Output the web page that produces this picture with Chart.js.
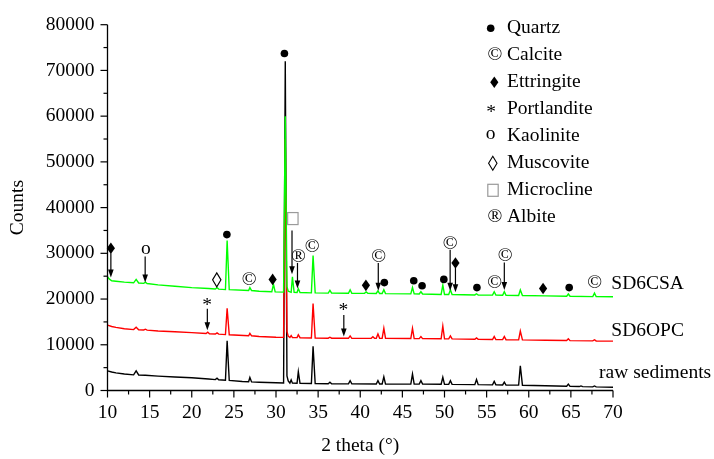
<!DOCTYPE html>
<html>
<head>
<meta charset="utf-8">
<script src="https://cdn.jsdelivr.net/npm/chart.js@4.4.1/dist/chart.umd.min.js"></script>
<style>
html,body{margin:0;padding:0;background:#fff;}
#c{display:block;}
</style>
</head>
<body>
<canvas id="c" width="714" height="459"></canvas>
<script>
// ---------- data ----------
const xTickLabels = [10, 15, 20, 25, 30, 35, 40, 45, 50, 55, 60, 65, 70];
const yTickLabels = [0, 10000, 20000, 30000, 40000, 50000, 60000, 70000, 80000];

// raw sediments (black)
const rawTheta = [10,10.5,11,12,13.1,13.4,13.7,14.5,16,18,20,22,22.8,23.0,23.2,24.0,24.2,24.45,26,26.75,26.9,27.1,28,30,30.9,31.1,31.3,31.45,31.65,31.8,31.95,32.5,32.65,32.85,34.2,34.4,34.65,36.2,36.4,36.6,38.6,38.8,39.0,41.9,42.1,42.3,42.6,42.8,43.0,46.0,46.2,46.4,47.0,47.2,47.4,49.6,49.8,50.0,50.5,50.7,50.9,53.6,53.8,54.0,55.7,55.9,56.1,56.9,57.1,57.3,58.8,59.0,59.25,62,64.5,64.7,64.9,66.0,66.2,66.4,67.6,67.8,68.0,70];
const rawCounts = [4300,4050,3850,3600,3420,4300,3400,3350,3150,2950,2800,2500,2380,2700,2360,2240,10850,2220,1980,1900,2850,1880,1800,1680,1650,72000,3200,2100,1620,2300,1610,1600,4100,1590,1540,9650,1530,1480,1800,1470,1440,2150,1440,1420,2150,1420,1420,3000,1410,1400,3600,1400,1390,2150,1390,1360,2900,1350,1350,2150,1340,1280,2400,1280,1240,2000,1230,1210,1850,1200,1170,5400,1160,1050,920,1400,910,860,1000,850,800,1000,790,720];

// SD6OPC (red)
const opcTheta = [10,10.5,11,12,13.1,13.4,13.7,14.3,14.5,14.7,16,18,20,21.7,21.9,22.1,22.8,23.0,23.2,24.0,24.2,24.45,26.75,26.9,27.1,28,30,30.9,31.1,31.3,31.45,31.65,31.8,31.95,32.5,32.65,32.85,34.2,34.4,34.65,36.2,36.4,36.6,38.6,38.8,39.0,41.3,41.5,41.7,41.9,42.1,42.3,42.6,42.8,43.0,46.0,46.2,46.4,47.0,47.2,47.4,49.6,49.8,50.0,50.5,50.7,50.9,53.6,53.8,54.0,55.7,55.9,56.1,56.9,57.1,57.3,58.8,59.0,59.25,62,64.5,64.7,64.9,67.6,67.8,68.0,70];
const opcCounts = [14300,14000,13800,13500,13320,13850,13280,13230,13400,13200,13000,12850,12650,12450,12750,12420,12350,12600,12330,12220,18000,12200,11980,12500,11960,11800,11650,11620,55000,12900,11900,11580,12000,11570,11560,12200,11550,11480,19000,11470,11440,11650,11440,11420,11950,11420,11400,11750,11400,11400,12370,11400,11400,13600,11390,11360,13600,11360,11350,11800,11350,11310,14100,11300,11300,11950,11290,11200,11500,11190,11150,11800,11140,11120,11800,11110,11070,13000,11060,11000,10920,11300,10910,10850,11100,10840,10800];

// SD6CSA (green)
const csaTheta = [10,10.2,10.5,11,12,13.1,13.4,13.7,14.3,14.5,14.7,16,18,20,22,22.8,23.0,23.2,24.0,24.2,24.45,26.75,26.9,27.1,28,29.5,29.7,29.9,30.9,31.1,31.3,31.45,31.8,31.95,32.15,32.5,32.65,32.85,34.2,34.4,34.65,36.2,36.4,36.6,38.6,38.8,39.0,40.5,40.7,40.9,41.9,42.1,42.3,42.6,42.8,43.0,46.0,46.2,46.4,47.0,47.2,47.4,49.6,49.8,50.0,50.5,50.7,50.9,53.6,53.8,54.0,55.7,55.9,56.1,56.9,57.1,57.3,58.8,59.0,59.25,62,64.5,64.7,64.9,67.6,67.8,68.0,70];
const csaCounts = [24900,24400,24000,23900,23700,23550,24300,23520,23430,23700,23400,23100,22800,22500,22300,22200,22500,22180,22070,32800,22050,21880,22500,21860,21700,21600,23200,21580,21520,60000,22700,21700,21470,24850,21450,21440,22250,21430,21360,29500,21350,21300,21900,21300,21270,22030,21270,21250,21550,21240,21220,21800,21210,21200,22030,21190,21130,22530,21120,21110,21600,21100,21010,23030,21000,21000,22030,20990,20900,21150,20890,20860,21600,20850,20830,21600,20820,20770,22000,20760,20700,20620,21100,20610,20540,21300,20530,20500];

const seriesNames = ['SD6CSA', 'SD6OPC', 'raw sediments'];
const seriesLabelTheta = [69.8, 69.8, 68.35];
const seriesLabelCounts = [23240, 13090, 3930];

// phase legend
const phaseSymbols = ['dot', 'c', 'diamond', 'star', 'o', 'lozenge', 'square', 'r'];
const phaseNames = ['Quartz', 'Calcite', 'Ettringite', 'Portlandite', 'Kaolinite', 'Muscovite', 'Microcline', 'Albite'];

// peak markers (2 theta, counts)
const markSymbols = ['diamond','o','lozenge','dot','c','diamond','dot','square','r','c','diamond','c','dot','dot','dot','dot','c','diamond','dot','c','c','diamond','dot','c','star','star'];
const markTheta = [10.4,14.55,22.97,24.17,26.8,29.6,31.0,32.0,32.66,34.3,40.67,42.18,42.86,46.35,47.34,49.92,50.67,51.3,53.85,55.95,57.2,61.7,64.8,67.83,21.83,38.0];
const markCounts = [31100,30500,24200,34100,24200,24300,73700,37600,29300,31500,23000,29300,23600,24000,22900,24300,32000,27900,22500,23600,29500,22300,22500,23500,19300,18200];

// arrows (2 theta, from counts, to counts)
const arrowTheta = [10.4,14.47,31.9,32.55,42.14,50.67,51.3,57.1,21.85,38.05];
const arrowFrom = [30000,29300,35000,27900,27900,30800,26800,28000,17900,16500];
const arrowTo = [24700,23600,25400,22300,21800,21800,21500,22000,13200,11800];

// ---------- drawing ----------
const FONT = '19.5px "Liberation Serif", "Times New Roman", serif';

function toXY(xs, ys) { return xs.map((x, i) => ({x: x, y: ys[i]})); }

function drawSym(ctx, sym, cx, cy) {
  ctx.save();
  ctx.fillStyle = '#000';
  ctx.strokeStyle = '#000';
  if (sym === 'dot') {
    ctx.beginPath(); ctx.arc(cx, cy, 3.8, 0, Math.PI * 2); ctx.fill();
  } else if (sym === 'diamond') {
    const w = 4.1, h = 5.8;
    ctx.beginPath(); ctx.moveTo(cx, cy - h); ctx.lineTo(cx + w, cy); ctx.lineTo(cx, cy + h); ctx.lineTo(cx - w, cy); ctx.closePath(); ctx.fill();
  } else if (sym === 'lozenge') {
    const w = 4.2, h = 7;
    ctx.lineWidth = 1.1;
    ctx.beginPath(); ctx.moveTo(cx, cy - h); ctx.lineTo(cx + w, cy); ctx.lineTo(cx, cy + h); ctx.lineTo(cx - w, cy); ctx.closePath(); ctx.stroke();
  } else if (sym === 'square') {
    ctx.strokeStyle = '#9a9a9a'; ctx.lineWidth = 1.2;
    ctx.strokeRect(cx - 5.2, cy - 6, 10.4, 12);
  } else {
    ctx.font = FONT;
    ctx.textAlign = 'center';
    ctx.textBaseline = 'middle';
    const ch = sym === 'c' ? '\u00A9' : sym === 'r' ? '\u00AE' : sym === 'o' ? 'o' : '*';
    let dy = 0;
    if (sym === 'star') dy = 3.5;
    if (sym === 'o') dy = -2;
    ctx.fillText(ch, cx, cy + dy);
  }
  ctx.restore();
}

function drawArrow(ctx, x, y1, y2) {
  ctx.save();
  ctx.strokeStyle = '#000'; ctx.fillStyle = '#000'; ctx.lineWidth = 1.2;
  const headL = 8, headW = 2.8;
  ctx.beginPath(); ctx.moveTo(x, y1); ctx.lineTo(x, y2 - headL + 1); ctx.stroke();
  ctx.beginPath(); ctx.moveTo(x - headW, y2 - headL); ctx.lineTo(x + headW, y2 - headL); ctx.lineTo(x, y2); ctx.closePath(); ctx.fill();
  ctx.restore();
}

const xrdPlugin = {
  id: 'xrdPlugin',
  afterDatasetsDraw(chart) {
    const ctx = chart.ctx, a = chart.chartArea;
    const xs = chart.scales.x, ys = chart.scales.y;
    ctx.save();
    // axes
    ctx.strokeStyle = '#000'; ctx.lineWidth = 1.3;
    ctx.beginPath(); ctx.moveTo(a.left, a.top); ctx.lineTo(a.left, a.bottom); ctx.lineTo(a.right, a.bottom); ctx.stroke();
    // ticks (major + minor)
    ctx.lineWidth = 1.2;
    xs.ticks.forEach((t, i) => {
      const px = xs.getPixelForValue(t.value);
      ctx.beginPath(); ctx.moveTo(px, a.bottom); ctx.lineTo(px, a.bottom + 7); ctx.stroke();
      if (i < xs.ticks.length - 1) {
        const pm = xs.getPixelForValue((t.value + xs.ticks[i + 1].value) / 2);
        ctx.beginPath(); ctx.moveTo(pm, a.bottom); ctx.lineTo(pm, a.bottom + 4); ctx.stroke();
      }
    });
    ys.ticks.forEach((t, i) => {
      const py = ys.getPixelForValue(t.value);
      ctx.beginPath(); ctx.moveTo(a.left, py); ctx.lineTo(a.left - 7, py); ctx.stroke();
      if (i < ys.ticks.length - 1) {
        const pm = ys.getPixelForValue((t.value + ys.ticks[i + 1].value) / 2);
        ctx.beginPath(); ctx.moveTo(a.left, pm); ctx.lineTo(a.left - 4, pm); ctx.stroke();
      }
    });
    // arrows
    arrowTheta.forEach((t, i) => {
      drawArrow(ctx, xs.getPixelForValue(t), ys.getPixelForValue(arrowFrom[i]), ys.getPixelForValue(arrowTo[i]));
    });
    // markers
    markSymbols.forEach((s, i) => {
      drawSym(ctx, s, xs.getPixelForValue(markTheta[i]), ys.getPixelForValue(markCounts[i]));
    });
    // series labels
    ctx.font = FONT; ctx.fillStyle = '#000'; ctx.textAlign = 'left'; ctx.textBaseline = 'middle';
    seriesNames.forEach((n, i) => {
      ctx.fillText(n, xs.getPixelForValue(seriesLabelTheta[i]), ys.getPixelForValue(seriesLabelCounts[i]));
    });
    // phase legend
    const symCenters = [490.7, 495, 494.3, 491, 490.7, 492.8, 493, 495];
    phaseNames.forEach((n, i) => {
      const cy = 28.3 + i * 27.0;
      drawSym(ctx, phaseSymbols[i], symCenters[i], cy);
      ctx.font = FONT; ctx.fillStyle = '#000'; ctx.textAlign = 'left'; ctx.textBaseline = 'middle';
      ctx.fillText(n, 507, cy);
    });
    ctx.restore();
  }
};

Chart.defaults.font.family = '"Liberation Serif", "Times New Roman", serif';
Chart.defaults.font.size = 19.5;
Chart.defaults.color = '#000';

new Chart(document.getElementById('c'), {
  type: 'line',
  data: {
    datasets: [
      { label: seriesNames[0], data: toXY(csaTheta, csaCounts), borderColor: '#00ff00', borderWidth: 1.4, pointRadius: 0, tension: 0, fill: false },
      { label: seriesNames[1], data: toXY(opcTheta, opcCounts), borderColor: '#ff0000', borderWidth: 1.4, pointRadius: 0, tension: 0, fill: false },
      { label: seriesNames[2], data: toXY(rawTheta, rawCounts), borderColor: '#000000', borderWidth: 1.4, pointRadius: 0, tension: 0, fill: false }
    ]
  },
  options: {
    responsive: false,
    animation: false,
    devicePixelRatio: 1,
    layout: { padding: { left: 0, right: 101, top: 17, bottom: 0 } },
    plugins: { legend: { display: false }, tooltip: { enabled: false } },
    scales: {
      x: {
        type: 'linear', min: xTickLabels[0], max: xTickLabels[xTickLabels.length - 1],
        border: { display: false },
        grid: { display: false, drawTicks: false },
        ticks: { stepSize: 5, padding: 11, maxRotation: 0, autoSkip: false,
          callback: v => xTickLabels.includes(v) ? String(v) : '' },
        title: { display: true, text: '2 theta (\u00B0)', padding: { top: 0, bottom: 1 } },
        afterFit: s => { s.height = 68.5; }
      },
      y: {
        type: 'linear', min: yTickLabels[0], max: yTickLabels[yTickLabels.length - 1],
        border: { display: false },
        grid: { display: false, drawTicks: false },
        ticks: { stepSize: 10000, padding: 13, autoSkip: false,
          callback: v => yTickLabels.includes(v) ? String(v) : '' },
        title: { display: true, text: 'Counts', padding: { top: 6, bottom: 0 } },
        afterFit: s => { s.width = 107.5; }
      }
    }
  },
  plugins: [xrdPlugin]
});
</script>
</body>
</html>
